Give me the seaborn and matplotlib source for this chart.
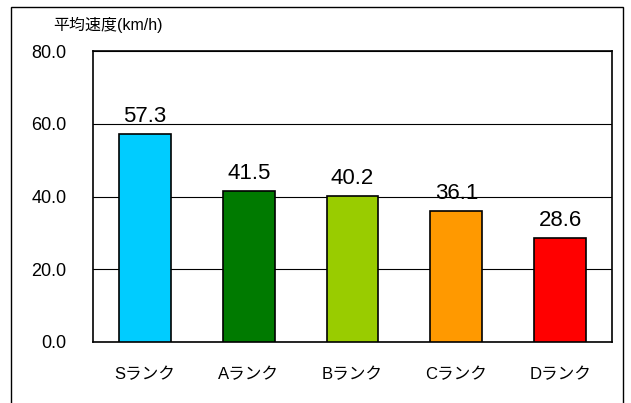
import matplotlib.pyplot as plt
import seaborn as sns
import pandas as pd
from matplotlib.patches import Rectangle

ranks = ['Sランク', 'Aランク', 'Bランク', 'Cランク', 'Dランク']
speeds = [57.3, 41.5, 40.2, 36.1, 28.6]
bar_colors = ['#00CCFF', '#007A00', '#99CC00', '#FF9900', '#FF0000']
y_ticks = [0, 20, 40, 60, 80]

sns.set_style('white')
plt.rcParams['font.family'] = ['Liberation Sans', 'Noto Sans CJK JP', 'DejaVu Sans']
plt.rcParams['text.color'] = 'black'
plt.rcParams['xtick.color'] = 'black'
plt.rcParams['ytick.color'] = 'black'

df = pd.DataFrame({'rank': ranks, 'speed': speeds})

fig = plt.figure(figsize=(6.31, 4.03), dpi=100)
ax = fig.add_axes([93 / 631, 61 / 403, 519 / 631, 291 / 403])

sns.barplot(data=df, x='rank', y='speed', hue='rank', palette=bar_colors,
            order=ranks, hue_order=ranks, legend=False, width=0.5, saturation=1,
            edgecolor='black', linewidth=1.2, ax=ax, zorder=3)

# Value labels above bars
for i, v in enumerate(speeds):
    ax.annotate(f'{v:.1f}', xy=(i, v), xytext=(0, 5), textcoords='offset points',
                ha='center', va='bottom', fontsize=16, color='black', zorder=4)

ax.set_ylim(0, 80)
ax.set_xlim(-0.5, len(ranks) - 0.5)
ax.set_yticks(y_ticks)
ax.set_yticklabels([f'{t:.1f}' for t in y_ticks], fontsize=13)
ax.yaxis.grid(True, color='black', linewidth=0.8, zorder=0)
ax.set_axisbelow(True)
ax.tick_params(axis='y', length=0, pad=19, labelcolor='black')
ax.tick_params(axis='x', length=0, pad=18, labelsize=12, labelcolor='black')
ax.set_xticks(range(len(ranks)), minor=False)
ax.set_xticks([i + 0.5 for i in range(len(ranks) - 1)], minor=True)
ax.tick_params(axis='x', which='minor', direction='in', length=4, width=0.8)
ax.set_xlabel('')
ax.set_ylabel('')
for s in ax.spines.values():
    s.set_visible(True)
    s.set_color('black')
    s.set_linewidth(1.2)

fig.text(53 / 631, 1 - 25 / 403, '平均速度(km/h)', fontsize=11.5, va='center', ha='left',
         color='black')

# Outer chart frame
fig.patches.append(Rectangle((11 / 631, -0.01), 612 / 631, 1 - 7 / 403 + 0.01,
                             transform=fig.transFigure, fill=False,
                             edgecolor='black', linewidth=1.0))

fig.savefig('out.png', dpi=100)
